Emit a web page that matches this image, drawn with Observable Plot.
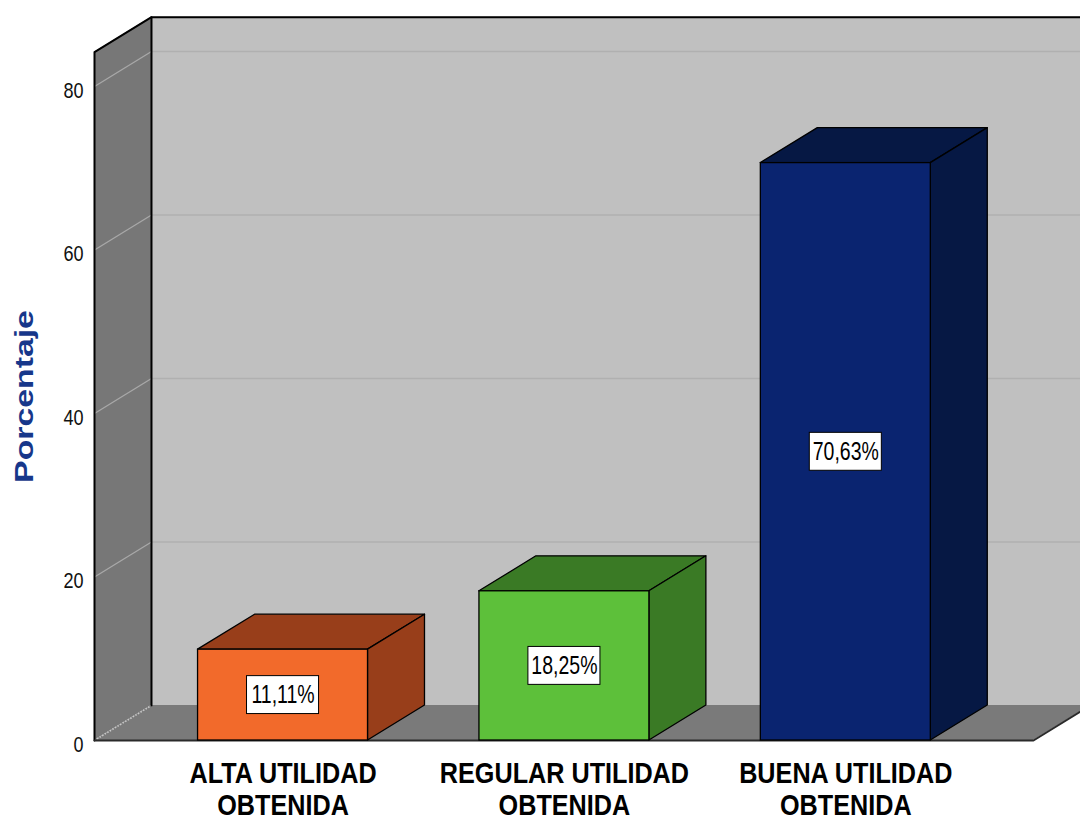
<!DOCTYPE html>
<html>
<head>
<meta charset="utf-8">
<script src="https://cdn.jsdelivr.net/npm/d3@7"></script>
<script src="https://cdn.jsdelivr.net/npm/@observablehq/plot@0.6"></script>
<style>
  body { margin: 0; background: #fff; overflow: hidden; }
  #chart { width: 1080px; height: 817px; }
</style>
</head>
<body>
<div id="chart"></div>
<script>
// Categories and percentages of the three utility levels
const categories = ["ALTA UTILIDAD\nOBTENIDA", "REGULAR UTILIDAD\nOBTENIDA", "BUENA UTILIDAD\nOBTENIDA"];
const percentages = [11.11, 18.25, 70.63];
const yTicks = [0, 20, 40, 60, 80];
const yTitle = "Porcentaje";

// Face colours for each bar: front, then top / side
const frontColors = ["#f26a2b", "#5dc03a", "#0a2470"];
const shadeColors = ["#983e1a", "#3a7a25", "#061844"];

// Layout of the pseudo-3D box (category units on x, percent on y)
const X0 = -0.67, X1 = 2.667;   // front floor edge
const DX = 0.2025, DY = 4.28;   // depth offset of the back wall
const TOP = 84.2;                // height of the side wall (front edge)
const HW = 0.302;                // half width of a bar
const BW = 0.128, BH = 2.32;     // half size of the value label boxes

const SANS = "'Liberation Sans', Arial, sans-serif";
const fmt = v => v.toFixed(2).replace(".", ",") + "%";

const bars = percentages.map((v, i) => {
  const [line1, line2] = categories[i].split("\n");
  return {i, v, label: fmt(v), front: frontColors[i], shade: shadeColors[i], line1, line2};
});

// Polygon vertices for the top and side faces of each bar
const topFaces = bars.flatMap(b => [
  {i: b.i, y: b.v, x1: b.i - HW, x2: b.i + HW, fill: b.shade},
  {i: b.i, y: b.v + DY, x1: b.i - HW + DX, x2: b.i + HW + DX, fill: b.shade}
]);
const sideFaces = bars.flatMap(b => [
  {i: b.i, x: b.i + HW, y1: 0, y2: b.v, fill: b.shade},
  {i: b.i, x: b.i + HW + DX, y1: DY, y2: b.v + DY, fill: b.shade}
]);

const XR = X1 + DX + 0.1; // back wall runs past the right edge
const gridTicks = yTicks.filter(t => t > 0);

const chart = Plot.plot({
  width: 1080,
  height: 817,
  marginLeft: 94,
  marginRight: 47,
  marginTop: 86,
  marginBottom: 77,
  x: {domain: [X0, X1], axis: null},
  y: {domain: [0, 80]},
  color: {type: "identity"},
  marks: [
    // back wall
    Plot.rect([0], {x1: X0 + DX, x2: XR, y1: DY, y2: TOP + DY, fill: "#c0c0c0"}),
    Plot.ruleY(gridTicks, {y: d => d + DY, x1: X0 + DX, x2: XR, stroke: "#b0b0b0", strokeWidth: 1.5}),
    // left side wall
    Plot.areaY([{x: X0, y1: 0, y2: TOP}, {x: X0 + DX, y1: DY, y2: TOP + DY}], {x: "x", y1: "y1", y2: "y2", fill: "#777777"}),
    Plot.link(gridTicks, {x1: X0, y1: d => d, x2: X0 + DX, y2: d => d + DY, stroke: "#a8a8a8", strokeWidth: 1.3}),
    // floor
    Plot.areaX([{y: 0, x1: X0, x2: X1}, {y: DY, x1: X0 + DX, x2: X1 + DX}], {y: "y", x1: "x1", x2: "x2", fill: "#7a7a7a"}),
    Plot.link([0], {x1: X0, y1: 0, x2: X0 + DX, y2: DY, stroke: "#c8c8c8", strokeDasharray: "1.5,1.5", strokeWidth: 1.5}),
    // wall outlines
    Plot.line([[X0, 0], [X0, TOP], [X0 + DX, TOP + DY], [XR, TOP + DY]], {stroke: "#000", strokeWidth: 2}),
    Plot.line([[X0 + DX, DY], [X0 + DX, TOP + DY]], {stroke: "#000", strokeWidth: 2}),
    Plot.line([[X0, 0], [X1, 0], [X1 + DX, DY]], {stroke: "#2a2a2a", strokeWidth: 2}),
    // bars
    Plot.areaX(topFaces, {y: "y", x1: "x1", x2: "x2", z: "i", fill: "fill", stroke: "#000", strokeWidth: 1.3}),
    Plot.areaY(sideFaces, {x: "x", y1: "y1", y2: "y2", z: "i", fill: "fill", stroke: "#000", strokeWidth: 1.3}),
    Plot.rect(bars, {x1: d => d.i - HW, x2: d => d.i + HW, y1: () => 0, y2: "v", fill: "front", stroke: "#000", strokeWidth: 1.3}),
    // value labels
    Plot.rect(bars, {x1: d => d.i - BW, x2: d => d.i + BW, y1: d => d.v / 2 - BH, y2: d => d.v / 2 + BH, fill: "#fff", stroke: "#000", strokeWidth: 1}),
    Plot.text(bars, {x: "i", y: d => d.v / 2, text: "label", fontSize: 25, fontFamily: SANS, fill: "#000"}),
    // y axis
    Plot.axisY(yTicks, {tickSize: 0, tickPadding: 11, fontSize: 22, fontFamily: SANS, fill: "#111", dy: 4, label: null}),
    // category labels, two lines each
    Plot.text(bars, {x: "i", y: () => 0, text: "line1", lineAnchor: "top", dy: 21, fontSize: 30, fontWeight: "bold", fontFamily: SANS, fill: "#000"}),
    Plot.text(bars, {x: "i", y: () => 0, text: "line2", lineAnchor: "top", dy: 53, fontSize: 30, fontWeight: "bold", fontFamily: SANS, fill: "#000"}),
    // y title
    Plot.text([yTitle], {frameAnchor: "left", textAnchor: "middle", rotate: -90, dx: -70, dy: -17, fontSize: 26, fontWeight: "bold", fontFamily: SANS, fill: "#17378a"})
  ]
});

document.getElementById("chart").appendChild(chart);

// Condensed / stretched lettering: scale each label along its baseline
const catLines = new Set(bars.flatMap(b => [b.line1, b.line2]));
const valueLabels = new Set(bars.map(b => b.label));
const tickLabels = new Set(yTicks.map(String));
chart.querySelectorAll("text").forEach(t => {
  const s = t.textContent;
  let factor = null;
  if (catLines.has(s)) factor = 0.84;
  else if (valueLabels.has(s)) factor = 0.78;
  else if (tickLabels.has(s)) factor = 0.82;
  else if (s === yTitle) factor = 1.3;
  if (factor == null) return;
  const len = t.getComputedTextLength();
  t.setAttribute("textLength", (len * factor).toFixed(1));
  t.setAttribute("lengthAdjust", "spacingAndGlyphs");
});
</script>
</body>
</html>
